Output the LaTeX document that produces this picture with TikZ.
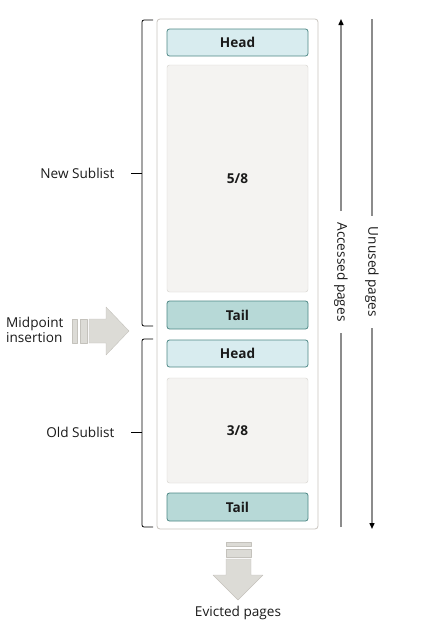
\documentclass[tikz,border=0pt]{standalone}
\usepackage{fontspec}
\setmainfont{Open Sans}
\usetikzlibrary{arrows.meta}
\definecolor{headfill}{HTML}{D8ECEF}
\definecolor{tailfill}{HTML}{B7D9D7}
\definecolor{slotline}{HTML}{4E8886}
\definecolor{pagefill}{HTML}{F4F3F1}
\definecolor{pageline}{HTML}{D5D1CC}
\definecolor{poolline}{HTML}{C9C5C0}
\definecolor{blockfill}{HTML}{DCDBD6}
\definecolor{blockline}{HTML}{C4C2BC}
\definecolor{axisline}{HTML}{8C8C8C}
\definecolor{ink}{HTML}{1A1A1A}
\begin{document}
\begin{tikzpicture}[x=1pt,y=-1pt,
  font=\fontsize{13.6}{16}\selectfont,text=ink,
  slot/.style={draw=slotline,line width=0.8pt,rounded corners=2.5pt,
    minimum width=141pt,inner sep=0pt,font=\fontsize{13.6}{16}\selectfont\bfseries},
  pages/.style={draw=pageline,fill=pagefill,rounded corners=2.5pt,
    minimum width=141pt,inner sep=0pt,font=\fontsize{13.6}{16}\selectfont\bfseries},
  brace/.style={line width=0.8pt,rounded corners=2pt},
  axis/.style={draw=axisline,line width=1.4pt},
  axislabel/.style={rotate=-90,inner xsep=11pt,inner ysep=0pt},
  tip/.style={-{Triangle[length=6pt,width=5pt,color=black]}},
  block/.style={fill=blockfill,draw=blockline,line width=0.4pt,line join=round}]
\useasboundingbox (0,0) rectangle (444,625);

% buffer pool
\node[draw=poolline,fill=white,rounded corners=3pt,line width=0.8pt,
  minimum width=161pt,minimum height=510pt] (pool) at (237.5,274) {};

\node[slot,fill=headfill,minimum height=27pt] (head1) at (237.5,42.5) {Head};
\node[pages,minimum height=227pt] (new) at (237.5,178.5) {5/8};
\node[slot,fill=tailfill,minimum height=28pt] (tail1) at (237.5,315) {Tail};
\node[slot,fill=headfill,minimum height=27pt] (head2) at (237.5,353.5) {Head};
\node[pages,minimum height=105pt] (old) at (237.5,430.5) {3/8};
\node[slot,fill=tailfill,minimum height=28pt] (tail2) at (237.5,507) {Tail};

% sublists
\draw[brace] (153,20) -- (142,20) -- (142,326) -- (153,326);
\draw[brace] (142,173) -- (131,173);
\node[anchor=east] (newlbl) at (118,173) {New Sublist};
\draw[brace] (153,339) -- (142,339) -- (142,527) -- (153,527);
\draw[brace] (142,432) -- (131,432);
\node[anchor=east] (oldlbl) at (118,432) {Old Sublist};

% midpoint insertion
\node[anchor=west,align=left,inner sep=0pt,font=\fontsize{13.6}{14.5}\selectfont]
  (midlbl) at (6,330) {Midpoint\\insertion};
\draw[block] (72,319) rectangle (77,343);
\draw[block] (80,319) rectangle (87,343);
\draw[block] (89,319) -- (106,319) -- (106,307) -- (129,331)
  -- (106,355) -- (106,343) -- (89,343) -- cycle;

% evicted pages
\draw[block] (226,542) rectangle (251,546);
\draw[block] (226,549) rectangle (251,557);
\draw[block] (226,559) -- (226,575) -- (213,575) -- (238,600)
  -- (263,575) -- (251,575) -- (251,559) -- cycle;
\node (evlbl) at (238,613) {Evicted pages};

% accessed / unused
\coordinate (acctop) at (341,19);
\coordinate (accbot) at (341,527);
\node[axislabel] (acc) at (341,272) {Accessed pages};
\draw[axis] (accbot) -- (acc.east);
\draw[axis,tip] (acc.west) -- (acctop);

\coordinate (unutop) at (372,19);
\coordinate (unubot) at (372,529);
\node[axislabel] (unu) at (372,272) {Unused pages};
\draw[axis] (unutop) -- (unu.west);
\draw[axis,tip] (unu.east) -- (unubot);
\end{tikzpicture}
\end{document}
